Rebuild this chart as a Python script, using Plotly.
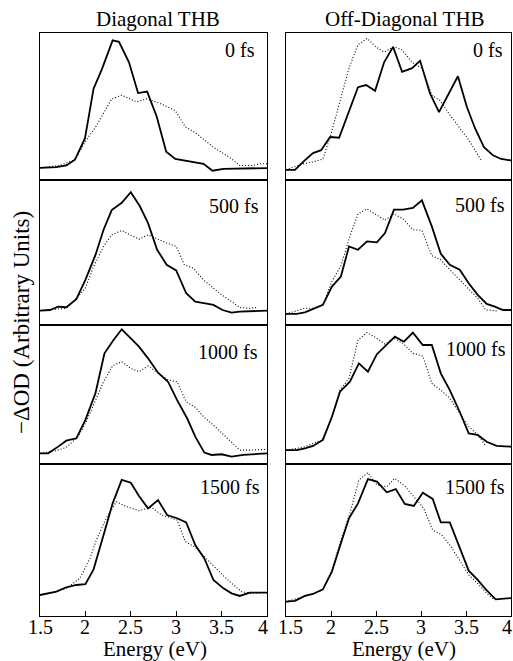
import plotly.graph_objects as go
from plotly.subplots import make_subplots

# ---------------- data (energy in eV, -dOD in arbitrary units) ----------------
delays = ["0 fs", "500 fs", "1000 fs", "1500 fs"]
x_ticks = [1.5, 2, 2.5, 3, 3.5, 4]
x_tick_text = ["1.5", "2", "2.5", "3", "3.5", "4"]

# Diagonal THB
diag0_solid_E = [1.5, 1.68, 1.79, 1.885, 1.995, 2.09, 2.18, 2.30, 2.37, 2.48, 2.58, 2.68, 2.785, 2.89, 2.99, 3.115, 3.30, 3.40, 3.52, 4.0]
diag0_solid_y = [0.08, 0.085, 0.096, 0.135, 0.28, 0.62, 0.75, 0.95, 0.94, 0.80, 0.59, 0.60, 0.43, 0.19, 0.14, 0.125, 0.107, 0.06, 0.073, 0.078]
diag0_dot_E = [1.5, 1.72, 1.885, 2.01, 2.105, 2.29, 2.40, 2.565, 2.675, 2.82, 2.99, 3.10, 3.21, 3.41, 3.59, 3.70, 3.85, 3.92, 4.0]
diag0_dot_y = [0.08, 0.096, 0.135, 0.27, 0.35, 0.55, 0.575, 0.53, 0.55, 0.52, 0.47, 0.36, 0.32, 0.22, 0.15, 0.096, 0.096, 0.107, 0.107]

diag500_solid_E = [1.5, 1.61, 1.70, 1.79, 1.90, 2.00, 2.11, 2.20, 2.29, 2.40, 2.50, 2.60, 2.69, 2.79, 2.895, 3.0, 3.11, 3.21, 3.32, 3.41, 3.51, 3.61, 3.70, 4.0]
diag500_solid_y = [0.099, 0.103, 0.126, 0.122, 0.177, 0.31, 0.48, 0.655, 0.79, 0.84, 0.913, 0.816, 0.70, 0.517, 0.414, 0.375, 0.218, 0.161, 0.149, 0.138, 0.103, 0.085, 0.092, 0.099]
diag500_dot_E = [1.5, 1.79, 1.92, 2.00, 2.09, 2.20, 2.29, 2.40, 2.49, 2.59, 2.69, 2.79, 2.895, 3.0, 3.09, 3.19, 3.30, 3.41, 3.50, 3.61, 3.70, 3.81, 3.90]
diag500_dot_y = [0.099, 0.115, 0.195, 0.253, 0.402, 0.54, 0.62, 0.65, 0.62, 0.59, 0.62, 0.59, 0.563, 0.54, 0.414, 0.39, 0.31, 0.253, 0.207, 0.161, 0.12, 0.115, 0.122]

diag1000_solid_E = [1.5, 1.59, 1.70, 1.79, 1.90, 2.0, 2.11, 2.21, 2.31, 2.40, 2.50, 2.59, 2.69, 2.80, 2.91, 3.01, 3.12, 3.21, 3.31, 3.39, 3.50, 3.61, 3.74, 4.0]
diag1000_solid_y = [0.077, 0.077, 0.125, 0.168, 0.185, 0.317, 0.508, 0.796, 0.892, 0.969, 0.904, 0.844, 0.76, 0.657, 0.592, 0.46, 0.329, 0.197, 0.082, 0.065, 0.07, 0.053, 0.065, 0.077]
diag1000_dot_E = [1.5, 1.68, 1.79, 1.92, 2.01, 2.11, 2.20, 2.30, 2.40, 2.50, 2.59, 2.69, 2.80, 2.91, 3.01, 3.11, 3.21, 3.30, 3.41, 3.51, 3.61, 3.70, 3.81, 3.92, 4.0]
diag1000_dot_y = [0.077, 0.096, 0.12, 0.197, 0.305, 0.46, 0.592, 0.707, 0.736, 0.688, 0.664, 0.705, 0.652, 0.604, 0.592, 0.448, 0.408, 0.34, 0.28, 0.22, 0.16, 0.10, 0.10, 0.105, 0.105]

diag1500_solid_E = [1.5, 1.68, 1.79, 1.90, 2.0, 2.09, 2.20, 2.30, 2.40, 2.50, 2.59, 2.69, 2.80, 2.90, 3.01, 3.11, 3.21, 3.31, 3.41, 3.52, 3.61, 3.70, 3.81, 4.0]
diag1500_solid_y = [0.138, 0.16, 0.189, 0.204, 0.21, 0.307, 0.533, 0.741, 0.895, 0.877, 0.79, 0.708, 0.763, 0.664, 0.643, 0.616, 0.467, 0.379, 0.237, 0.182, 0.149, 0.132, 0.154, 0.154]
diag1500_dot_E = [1.5, 1.68, 1.79, 1.94, 2.05, 2.12, 2.23, 2.34, 2.45, 2.59, 2.73, 2.84, 3.01, 3.10, 3.21, 3.31, 3.41, 3.51, 3.61, 3.72, 3.83, 3.92]
diag1500_dot_y = [0.138, 0.16, 0.182, 0.248, 0.379, 0.50, 0.643, 0.752, 0.72, 0.693, 0.715, 0.664, 0.632, 0.489, 0.452, 0.39, 0.325, 0.27, 0.215, 0.16, 0.149, 0.154]

# Off-Diagonal THB
off0_solid_E = [1.5, 1.60, 1.69, 1.80, 1.89, 1.99, 2.09, 2.20, 2.30, 2.39, 2.49, 2.59, 2.69, 2.79, 2.90, 2.99, 3.10, 3.20, 3.31, 3.41, 3.51, 3.60, 3.70, 3.80, 3.89, 4.0]
off0_solid_y = [0.066, 0.066, 0.12, 0.18, 0.20, 0.29, 0.285, 0.46, 0.63, 0.645, 0.605, 0.80, 0.905, 0.735, 0.76, 0.81, 0.587, 0.46, 0.587, 0.705, 0.495, 0.35, 0.22, 0.165, 0.14, 0.13]
off0_dot_E = [1.5, 1.60, 1.69, 1.80, 1.91, 2.00, 2.09, 2.20, 2.30, 2.40, 2.50, 2.59, 2.70, 2.79, 2.90, 3.01, 3.12, 3.21, 3.31, 3.42, 3.53, 3.67]
off0_dot_y = [0.066, 0.085, 0.107, 0.12, 0.14, 0.31, 0.52, 0.76, 0.92, 0.963, 0.905, 0.87, 0.905, 0.885, 0.80, 0.76, 0.575, 0.54, 0.45, 0.36, 0.27, 0.13]

off500_solid_E = [1.5, 1.62, 1.71, 1.80, 1.91, 2.01, 2.11, 2.20, 2.30, 2.40, 2.51, 2.60, 2.70, 2.80, 2.91, 3.01, 3.12, 3.22, 3.32, 3.43, 3.53, 3.63, 3.73, 3.82, 3.91, 4.0]
off500_solid_y = [0.076, 0.076, 0.087, 0.108, 0.138, 0.264, 0.333, 0.54, 0.517, 0.575, 0.568, 0.632, 0.793, 0.793, 0.805, 0.857, 0.678, 0.49, 0.414, 0.38, 0.287, 0.207, 0.145, 0.126, 0.103, 0.103]
off500_dot_E = [1.5, 1.62, 1.71, 1.80, 1.91, 2.01, 2.11, 2.21, 2.30, 2.40, 2.51, 2.60, 2.70, 2.80, 2.91, 3.01, 3.12, 3.22, 3.32, 3.43, 3.53, 3.63, 3.72, 3.84]
off500_dot_y = [0.076, 0.099, 0.115, 0.115, 0.138, 0.30, 0.407, 0.61, 0.763, 0.798, 0.752, 0.72, 0.763, 0.729, 0.655, 0.65, 0.476, 0.448, 0.38, 0.31, 0.253, 0.184, 0.103, 0.097]

off1000_solid_E = [1.5, 1.62, 1.71, 1.80, 1.91, 2.01, 2.10, 2.21, 2.31, 2.41, 2.51, 2.61, 2.71, 2.81, 2.91, 3.02, 3.12, 3.22, 3.32, 3.43, 3.53, 3.63, 3.73, 3.84, 4.0]
off1000_solid_y = [0.10, 0.10, 0.113, 0.13, 0.173, 0.34, 0.52, 0.592, 0.724, 0.664, 0.79, 0.856, 0.916, 0.88, 0.945, 0.856, 0.856, 0.652, 0.532, 0.376, 0.22, 0.209, 0.16, 0.13, 0.125]
off1000_dot_E = [1.5, 1.69, 1.90, 2.01, 2.10, 2.20, 2.30, 2.40, 2.51, 2.60, 2.70, 2.80, 2.91, 3.02, 3.12, 3.22, 3.32, 3.43, 3.53, 3.63, 3.72]
off1000_dot_y = [0.10, 0.12, 0.173, 0.328, 0.532, 0.616, 0.892, 0.945, 0.904, 0.863, 0.904, 0.868, 0.796, 0.777, 0.58, 0.532, 0.472, 0.364, 0.27, 0.209, 0.13]

off1500_solid_E = [1.5, 1.60, 1.71, 1.80, 1.91, 2.01, 2.11, 2.20, 2.30, 2.41, 2.51, 2.62, 2.72, 2.82, 2.92, 3.02, 3.13, 3.22, 3.32, 3.42, 3.53, 3.63, 3.72, 3.83, 4.0]
off1500_solid_y = [0.094, 0.10, 0.132, 0.145, 0.175, 0.292, 0.478, 0.643, 0.741, 0.90, 0.884, 0.814, 0.835, 0.737, 0.724, 0.811, 0.77, 0.616, 0.616, 0.46, 0.298, 0.237, 0.175, 0.11, 0.118]
off1500_dot_E = [1.5, 1.69, 1.91, 2.01, 2.11, 2.21, 2.31, 2.41, 2.51, 2.62, 2.71, 2.82, 2.92, 3.03, 3.13, 3.23, 3.33, 3.43, 3.53, 3.63, 3.73, 3.81]
off1500_dot_y = [0.094, 0.127, 0.171, 0.303, 0.50, 0.675, 0.895, 0.943, 0.862, 0.851, 0.906, 0.855, 0.785, 0.708, 0.566, 0.533, 0.46, 0.368, 0.27, 0.215, 0.149, 0.11]

diag_panels = [
    (diag0_solid_E, diag0_solid_y, diag0_dot_E, diag0_dot_y),
    (diag500_solid_E, diag500_solid_y, diag500_dot_E, diag500_dot_y),
    (diag1000_solid_E, diag1000_solid_y, diag1000_dot_E, diag1000_dot_y),
    (diag1500_solid_E, diag1500_solid_y, diag1500_dot_E, diag1500_dot_y),
]
off_panels = [
    (off0_solid_E, off0_solid_y, off0_dot_E, off0_dot_y),
    (off500_solid_E, off500_solid_y, off500_dot_E, off500_dot_y),
    (off1000_solid_E, off1000_solid_y, off1000_dot_E, off1000_dot_y),
    (off1500_solid_E, off1500_solid_y, off1500_dot_E, off1500_dot_y),
]

# ---------------- layout helpers ----------------
W, H = 513, 661
FONT = "Liberation Serif"


def px(x):
    return x / W


def py(y):
    return 1 - y / H


row_edges = [33, 179.5, 325, 464, 616]
col_edges = [(40, 267), (286, 511)]

fig = make_subplots(rows=4, cols=2)

for c, panels in enumerate([diag_panels, off_panels]):
    for r, (sE, sy, dE, dy) in enumerate(panels):
        fig.add_trace(go.Scatter(x=dE, y=dy, mode="lines",
                                 line=dict(color="black", width=1.1, dash="1px,2px"),
                                 showlegend=False, hoverinfo="skip"),
                      row=r + 1, col=c + 1)
        fig.add_trace(go.Scatter(x=sE, y=sy, mode="lines",
                                 line=dict(color="black", width=1.8),
                                 showlegend=False, hoverinfo="skip"),
                      row=r + 1, col=c + 1)

for r in range(4):
    for c in range(2):
        idx = r * 2 + c + 1
        xa = "xaxis" if idx == 1 else f"xaxis{idx}"
        ya = "yaxis" if idx == 1 else f"yaxis{idx}"
        bottom = r == 3
        fig.layout[xa].update(
            domain=[px(col_edges[c][0]), px(col_edges[c][1])],
            range=[1.5, 4.0], showgrid=False, zeroline=False,
            showline=True, mirror=True, linecolor="black", linewidth=1,
            tickvals=x_ticks,
            ticks="inside" if bottom else "", ticklen=5, tickcolor="black",
            showticklabels=False,
        )
        fig.layout[ya].update(
            domain=[py(row_edges[r + 1]), py(row_edges[r])],
            range=[0, 1.0], showgrid=False, zeroline=False,
            showline=True, mirror=True, linecolor="black", linewidth=1,
            showticklabels=False, ticks="",
        )

annotations = []
# tick labels of the two bottom axes, placed through the x axes' own scale
edge_shift = {("x7", 4): -4, ("x8", 1.5): 4, ("x8", 4): -4}
for xref in ["x7", "x8"]:
    for v, t in zip(x_ticks, x_tick_text):
        annotations.append(dict(text=t, x=v, y=py(627), xref=xref, yref="paper",
                                xanchor="center", yanchor="middle", showarrow=False,
                                xshift=edge_shift.get((xref, v), 0),
                                font=dict(family=FONT, size=20, color="black")))

label_pos = [
    [(257, 50), (261, 206), (260, 352), (262, 487)],
    [(505, 50), (507, 205), (508, 349), (507, 487)],
]
for c in range(2):
    for r in range(4):
        x, y = label_pos[c][r]
        annotations.append(dict(text=delays[r], x=px(x), y=py(y), xref="paper", yref="paper",
                                xanchor="right", yanchor="middle", showarrow=False,
                                font=dict(family=FONT, size=20, color="black")))

annotations.append(dict(text="Diagonal THB", x=px(158), y=py(19), xref="paper", yref="paper",
                        xanchor="center", yanchor="middle", showarrow=False,
                        font=dict(family=FONT, size=21, color="black")))
annotations.append(dict(text="Off-Diagonal THB", x=px(405), y=py(19), xref="paper", yref="paper",
                        xanchor="center", yanchor="middle", showarrow=False,
                        font=dict(family=FONT, size=21, color="black")))
annotations.append(dict(text="Energy (eV)", x=px(155), y=0, xref="paper", yref="paper",
                        xanchor="center", yanchor="bottom", showarrow=False, yshift=-2,
                        font=dict(family=FONT, size=21, color="black")))
annotations.append(dict(text="Energy (eV)", x=px(404), y=0, xref="paper", yref="paper",
                        xanchor="center", yanchor="bottom", showarrow=False, yshift=-2,
                        font=dict(family=FONT, size=21, color="black")))
annotations.append(dict(text="\u2212\u0394OD (Arbitrary Units)", x=px(21), y=py(323),
                        xref="paper", yref="paper", textangle=-90,
                        xanchor="center", yanchor="middle", showarrow=False,
                        font=dict(family=FONT, size=23, color="black")))

fig.update_layout(
    width=W, height=H,
    margin=dict(l=0, r=0, t=0, b=0, pad=0),
    paper_bgcolor="white", plot_bgcolor="white",
    annotations=annotations,
    font=dict(family=FONT, color="black"),
)

fig.write_html("out.html",
               config={"displayModeBar": False, "staticPlot": True},
               post_script="document.body.style.margin='0';document.body.style.padding='0';"
                           "document.body.style.overflow='hidden';")
